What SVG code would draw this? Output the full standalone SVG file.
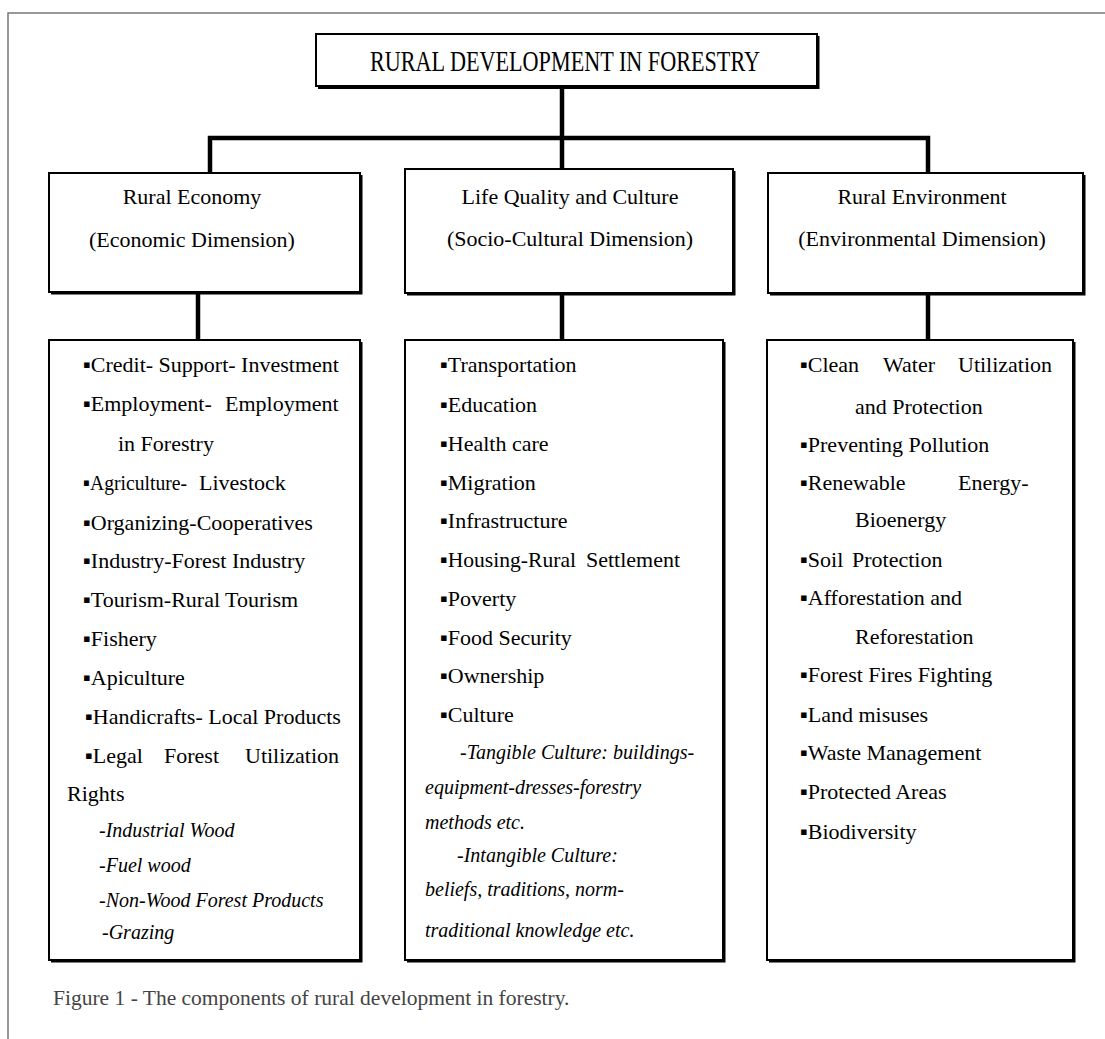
<svg xmlns="http://www.w3.org/2000/svg" width="1105" height="1039" viewBox="0 0 1105 1039">
<style>
.frame{fill:none;stroke:#777;stroke-width:1.5}
.box{fill:#fff;stroke:#000;stroke-width:2}
.sh{fill:none;stroke:#000;stroke-width:3}
.con{fill:none;stroke:#000;stroke-width:4.5;stroke-linejoin:miter}
text{font-family:"Liberation Serif","Times New Roman",serif;fill:#000}
.title{font-size:30px;text-anchor:middle}
.h{font-size:22px;text-anchor:middle}
.li{font-size:22px}
.it{font-size:20px;font-style:italic}
.cap{font-size:21.5px;fill:#444}
</style>
<rect class="frame" x="8" y="13" width="1110" height="1040"/>
<g id="connectors">
<path class="con" d="M562 86 V169"/>
<path class="con" d="M210 173 V138 H928 V173"/>
<path class="con" d="M198 292 V340"/>
<path class="con" d="M562 293 V340"/>
<path class="con" d="M928 293 V340"/>
</g>
<g id="title">
<rect class="box" x="316" y="34" width="501" height="52"/>
<path class="sh" d="M818 36 V87.5 H318"/>
<text class="title" x="565" y="71" textLength="390" lengthAdjust="spacingAndGlyphs">RURAL DEVELOPMENT IN FORESTRY</text>
</g>
<g id="economy-header">
<rect class="box" x="49" y="173" width="311" height="119"/>
<path class="sh" d="M361 175 V293 H51"/>
<text class="h" x="192" y="204">Rural Economy</text>
<text class="h" x="192" y="247">(Economic  Dimension)</text>
</g>
<g id="culture-header">
<rect class="box" x="405" y="169" width="328" height="124"/>
<path class="sh" d="M734 171 V294 H407"/>
<text class="h" x="570" y="204">Life Quality and Culture</text>
<text class="h" x="570" y="246">(Socio-Cultural  Dimension)</text>
</g>
<g id="environment-header">
<rect class="box" x="768" y="173" width="315" height="120"/>
<path class="sh" d="M1084 175 V294 H770"/>
<text class="h" x="922" y="204">Rural Environment</text>
<text class="h" x="922" y="246">(Environmental Dimension)</text>
</g>
<g id="economy-list">
<rect class="box" x="49" y="340" width="311" height="620"/>
<path class="sh" d="M361 342 V961 H51"/>
<text class="li" x="83" y="372">▪Credit- Support- Investment</text>
<text class="li" x="83" y="411">▪Employment-</text>
<text class="li" x="225" y="411">Employment</text>
<text class="li" x="118" y="451">in Forestry</text>
<text class="li" x="83" y="490" textLength="104" lengthAdjust="spacingAndGlyphs">▪Agriculture-</text>
<text class="li" x="199" y="490">Livestock</text>
<text class="li" x="83" y="530">▪Organizing-Cooperatives</text>
<text class="li" x="83" y="568">▪Industry-Forest Industry</text>
<text class="li" x="83" y="607">▪Tourism-Rural Tourism</text>
<text class="li" x="83" y="646">▪Fishery</text>
<text class="li" x="83" y="685">▪Apiculture</text>
<text class="li" x="85" y="724">▪Handicrafts- Local Products</text>
<text class="li" x="85" y="763">▪Legal</text>
<text class="li" x="164" y="763">Forest</text>
<text class="li" x="245" y="763">Utilization</text>
<text class="li" x="67" y="801">Rights</text>
<text class="it" x="99" y="837">-Industrial Wood</text>
<text class="it" x="99" y="872">-Fuel wood</text>
<text class="it" x="99" y="907">-Non-Wood Forest Products</text>
<text class="it" x="102" y="939">-Grazing</text>
</g>
<g id="culture-list">
<rect class="box" x="405" y="340" width="318" height="620"/>
<path class="sh" d="M724 342 V961 H407"/>
<text class="li" x="440" y="372">▪Transportation</text>
<text class="li" x="440" y="412">▪Education</text>
<text class="li" x="440" y="451">▪Health care</text>
<text class="li" x="440" y="490">▪Migration</text>
<text class="li" x="440" y="528">▪Infrastructure</text>
<text class="li" x="440" y="567" textLength="136" lengthAdjust="spacingAndGlyphs">▪Housing-Rural</text>
<text class="li" x="586" y="567">Settlement</text>
<text class="li" x="440" y="606">▪Poverty</text>
<text class="li" x="440" y="645">▪Food Security</text>
<text class="li" x="440" y="683">▪Ownership</text>
<text class="li" x="440" y="722">▪Culture</text>
<text class="it" x="460" y="759">-Tangible Culture: buildings-</text>
<text class="it" x="425" y="794">equipment-dresses-forestry</text>
<text class="it" x="425" y="829">methods etc.</text>
<text class="it" x="457" y="862">-Intangible Culture:</text>
<text class="it" x="425" y="896">beliefs, traditions, norm-</text>
<text class="it" x="425" y="937">traditional knowledge etc.</text>
</g>
<g id="environment-list">
<rect class="box" x="767" y="340" width="306" height="620"/>
<path class="sh" d="M1074 342 V961 H769"/>
<text class="li" x="800" y="372">▪Clean</text>
<text class="li" x="883" y="372">Water</text>
<text class="li" x="958" y="372">Utilization</text>
<text class="li" x="855" y="414">and Protection</text>
<text class="li" x="800" y="452">▪Preventing Pollution</text>
<text class="li" x="800" y="490">▪Renewable</text>
<text class="li" x="958" y="490">Energy-</text>
<text class="li" x="855" y="527">Bioenergy</text>
<text class="li" x="800" y="567">▪Soil</text>
<text class="li" x="852" y="567">Protection</text>
<text class="li" x="800" y="605">▪Afforestation and</text>
<text class="li" x="855" y="644">Reforestation</text>
<text class="li" x="800" y="682">▪Forest Fires Fighting</text>
<text class="li" x="800" y="722">▪Land misuses</text>
<text class="li" x="800" y="760">▪Waste Management</text>
<text class="li" x="800" y="799">▪Protected Areas</text>
<text class="li" x="800" y="839">▪Biodiversity</text>
</g>
<text class="cap" x="53" y="1005">Figure 1 - The components of rural development in forestry.</text>
</svg>
